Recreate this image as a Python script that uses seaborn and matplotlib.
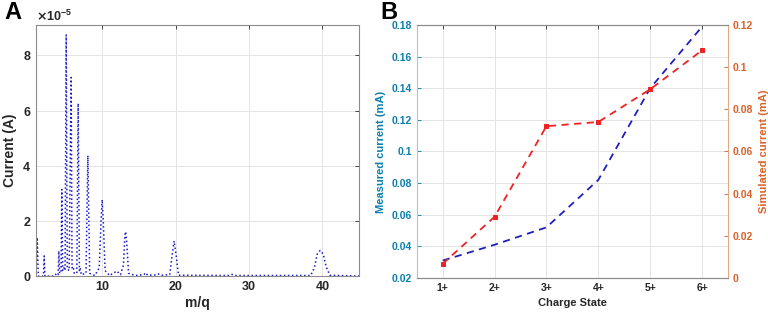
import numpy as np
import pandas as pd
import matplotlib
matplotlib.use("Agg")
import matplotlib.pyplot as plt
import seaborn as sns

# Panel A: m/q spectrum trace (current in A)
mz = [1.0, 1.15, 1.3, 2.0, 2.1, 2.2, 3.5, 3.8, 4.0, 4.1, 4.2, 4.4, 4.5, 4.62, 4.8,
      4.95, 5.1, 5.25, 5.5, 5.77, 5.9, 6.05, 6.2, 6.55, 6.73, 6.9, 7.0, 7.15,
      7.8, 8.05, 8.3, 9.0, 9.6, 9.85, 10.0, 10.15, 10.4, 11.0, 11.8, 12.0, 12.3,
      12.5, 12.9, 13.1, 13.2, 13.35, 13.6, 14.5, 15.7, 15.9, 16.2, 17.3, 17.6,
      18.0, 19.2, 19.5, 19.8, 20.1, 20.4, 27.2, 27.7, 28.2, 38.4, 38.9, 39.3,
      39.7, 40.1, 40.5, 41.0, 45.0]
current_e5 = [0.0, 1.4, 0.0, 0.0, 0.73, 0.0, 0.0, 0.1, 0.05, 0.91, 0.1, 0.15, 3.14,
              0.2, 0.3, 0.2, 8.74, 0.25, 0.2, 7.2, 0.3, 0.35, 0.1, 0.1, 6.26, 0.2,
              0.3, 0.05, 0.1, 4.37, 0.1, 0.02, 0.3, 2.0, 2.77, 2.0, 0.2, 0.02,
              0.15, 0.18, 0.1, 0.05, 0.4, 1.5, 1.61, 1.2, 0.1, 0.02, 0.05, 0.12,
              0.03, 0.04, 0.08, 0.03, 0.05, 0.7, 1.27, 0.7, 0.03, 0.02, 0.06, 0.02,
              0.02, 0.3, 0.8, 0.93, 0.8, 0.35, 0.03, 0.0]

# Panel B: charge state currents (mA)
charge_states = ["1+", "2+", "3+", "4+", "5+", "6+"]
measured = [0.031, 0.041, 0.052, 0.082, 0.140, 0.179]
simulated = [0.0067, 0.029, 0.072, 0.074, 0.0895, 0.108]

sns.set_style("white")
plt.rcParams["font.family"] = ["Liberation Sans", "DejaVu Sans"]
plt.rcParams["font.weight"] = "bold"
plt.rcParams["xtick.direction"] = "in"
plt.rcParams["ytick.direction"] = "in"

BLUE_AX = "#0a7fae"
ORANGE_AX = "#d9622b"
TEXT = "#262626"

fig = plt.figure(figsize=(7.68, 3.13), dpi=100)
ax_a = fig.add_axes([0.047, 0.118, 0.4206, 0.802])
ax_b = fig.add_axes([0.5426, 0.112, 0.4053, 0.808])

# ---- Panel A ----
spec = pd.DataFrame({"mz": mz, "current": np.array(current_e5) * 1e-5})
sns.lineplot(data=spec, x="mz", y="current", ax=ax_a, color="#1a1acc",
             linestyle=":", linewidth=1.1, estimator=None, sort=False)
ax_a.set_xlim(1, 45)
ax_a.set_ylim(0, 9.1e-5)
ax_a.set_xticks([10, 20, 30, 40])
ax_a.set_yticks([0, 2e-5, 4e-5, 6e-5, 8e-5])
ax_a.ticklabel_format(axis="y", style="sci", scilimits=(0, 0), useMathText=True)
ax_a.yaxis.get_offset_text().set_fontsize(9)
ax_a.yaxis.get_offset_text().set_color(TEXT)
ax_a.set_xlabel("m/q", fontsize=10, fontweight="bold", color=TEXT, labelpad=2)
ax_a.set_ylabel("Current (A)", fontsize=10, fontweight="bold", color=TEXT, labelpad=4)
ax_a.grid(True, color="#e4e4e4", linewidth=0.7)
ax_a.tick_params(labelsize=9, colors=TEXT, length=3, width=0.6, top=True, right=True,
                 labelcolor=TEXT)
for s in ax_a.spines.values():
    s.set_color("#8c8c8c")
    s.set_linewidth(0.8)

# ---- Panel B ----
df = pd.DataFrame({"state": charge_states, "pos": np.arange(1, 7),
                   "measured": measured, "simulated": simulated})
sns.lineplot(data=df, x="pos", y="measured", ax=ax_b, color="#1f1fbf",
             linestyle=(0, (4, 3)), linewidth=1.3)
ax_b.set_xlim(0.5, 6.5)
ax_b.set_ylim(0.02, 0.18)
ax_b.set_yticks(np.arange(0.02, 0.181, 0.02))
ax_b.set_yticklabels(["0.02", "0.04", "0.06", "0.08", "0.1", "0.12", "0.14", "0.16", "0.18"])
ax_b.set_xticks(df["pos"])
ax_b.set_xticklabels(charge_states)
ax_b.set_xlabel("Charge State", fontsize=8, fontweight="bold", color=TEXT, labelpad=4)
ax_b.set_ylabel("Measured current (mA)", fontsize=8, fontweight="bold", color=BLUE_AX,
                labelpad=4)
ax_b.grid(True, color="#e4e4e4", linewidth=0.7)
ax_b.tick_params(axis="x", labelsize=7.5, colors=TEXT, length=3, width=0.6, top=True)
ax_b.tick_params(axis="y", labelsize=7.5, colors=BLUE_AX, length=3, width=0.6)

ax_r = ax_b.twinx()
sns.lineplot(data=df, x="pos", y="simulated", ax=ax_r, color="#ee2222",
             linestyle=(0, (4, 3)), linewidth=1.3, marker="s", markersize=3.5,
             markeredgecolor="#ee2222")
ax_r.set_ylim(0, 0.12)
ax_r.set_yticks(np.arange(0, 0.121, 0.02))
ax_r.set_yticklabels(["0", "0.02", "0.04", "0.06", "0.08", "0.1", "0.12"])
ax_r.set_ylabel("Simulated current (mA)", fontsize=8, fontweight="bold", color=ORANGE_AX,
                labelpad=4)
ax_r.tick_params(axis="y", labelsize=7.5, colors=ORANGE_AX, length=3, width=0.6,
                 direction="in")
ax_r.set_xlabel("")

for s in ax_b.spines.values():
    s.set_color("#8c8c8c")
    s.set_linewidth(0.8)
ax_r.spines["left"].set_color("#a9c7d3")
ax_r.spines["right"].set_color("#e0a882")
ax_r.spines["top"].set_color("#8c8c8c")
ax_r.spines["bottom"].set_color("#8c8c8c")
ax_b.spines["left"].set_visible(False)
ax_b.spines["right"].set_visible(False)

fig.text(0.006, 0.997, "A", fontsize=17, fontweight="bold", color="black", va="top")
fig.text(0.495, 0.997, "B", fontsize=17, fontweight="bold", color="black", va="top")

fig.savefig("out.png", dpi=100)
